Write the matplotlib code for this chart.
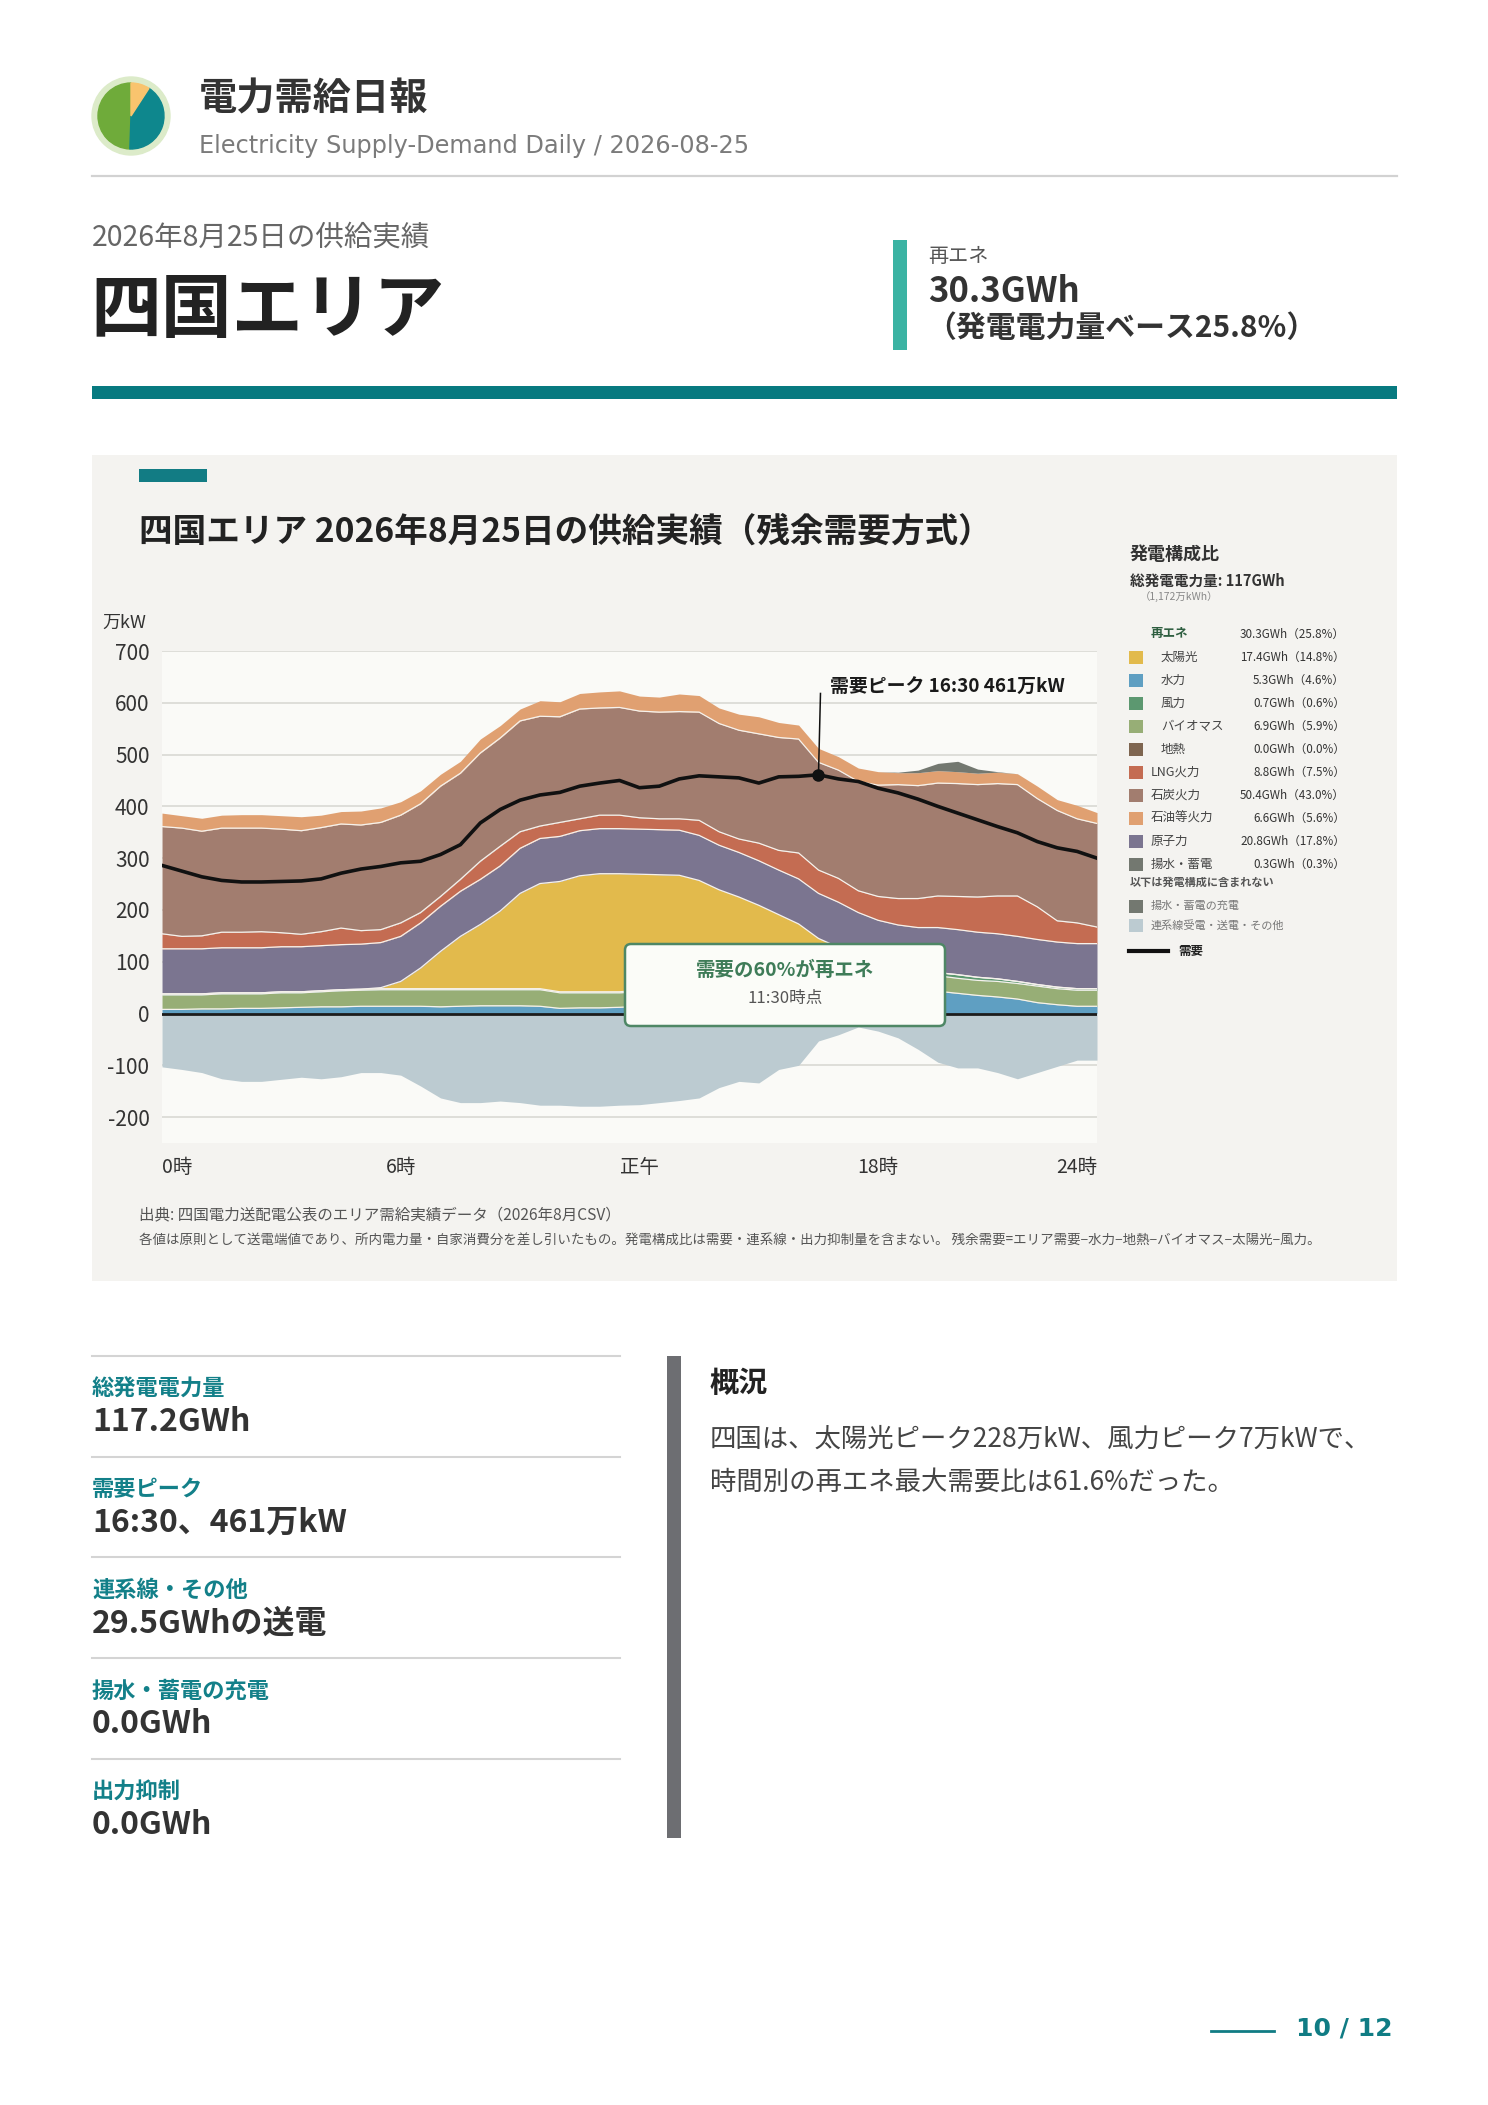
import numpy as np
import matplotlib.pyplot as plt
from matplotlib.patches import Rectangle, FancyBboxPatch, Wedge, Circle
from matplotlib.transforms import Affine2D, blended_transform_factory

plt.rcParams['font.family'] = ['Noto Sans CJK JP', 'DejaVu Sans']
plt.rcParams['axes.unicode_minus'] = False

################################################################################
# Datos (万kW, cada 30 minutos de 0:00 a 23:30)
horas = np.arange(0, 24, 0.5)

hidro = [8, 8, 9, 9, 10, 10, 11, 12, 13, 13, 14, 14, 14, 14, 13, 14, 15, 15, 15, 14, 10, 11, 11, 12,
         14, 17, 20, 24, 28, 32, 36, 40, 44, 46, 48, 48, 47, 46, 45,
         43, 39, 35, 32, 28, 21, 17, 14, 14]
biomasa = [28, 28, 27, 29, 28, 28, 29, 28, 29, 31, 31, 32,
           32, 32, 33, 32, 31, 31, 31, 32,
           30, 29, 29, 28, 28,
           28, 29, 29, 29, 29, 29, 29, 29, 29, 30, 30, 30, 30, 30,
           30, 29, 29, 30, 30, 32, 31, 31, 31]
eolica = [2] * 24 + [3, 3, 4, 4, 4, 4, 4, 4, 4, 4, 4, 4, 4, 4, 4] + [6, 7, 6, 5, 4, 3, 3, 3, 3]
geotermia = [0] * 48
solar = [0] * 11 + [2, 14, 40, 72, 101, 124, 150, 184, 203, 213, 224, 228, 228, 224, 220, 214,
                    200, 178, 160, 140, 118, 96, 66, 46, 26, 12, 4] + [0] * 10
nuclear = [87, 87, 87, 87, 87, 87, 87, 87, 87, 87, 87, 87, 87, 87, 87, 87,
           87, 87, 87, 87, 87, 87, 87, 87, 87, 87, 87, 87, 86, 86, 86, 86,
           87, 87, 87, 87, 87, 87, 87, 87, 87, 87, 87, 87, 87, 87, 87, 87]
lng = [29, 24, 25, 30, 30, 31, 27, 24, 27, 32, 26, 25, 26, 20, 19, 23,
       35, 38, 32, 24, 27, 23, 26, 26, 22, 21, 22, 29, 26, 26, 34, 38,
       50, 45, 46, 42, 46, 51, 56, 61, 64, 68, 73, 78, 63, 41, 40, 32]
carbon = [207, 209, 202, 201, 201, 200, 200, 200, 201, 201, 204, 207, 208, 210, 213, 205,
          209, 209, 214, 212, 204, 212, 207, 208, 206, 206, 207, 209, 209, 210, 211, 218,
          220, 208, 209, 211, 215, 220, 218, 218, 218, 217, 217, 215, 209, 213, 201, 200]
petroleo = [26, 24, 25, 25, 26, 26, 26, 27, 24, 24, 27, 28, 26, 25, 23, 23,
            27, 24, 23, 30, 29, 30, 31, 32, 29, 29, 34, 32, 30, 31, 33, 29,
            27, 27, 26, 26, 26, 23, 25, 24, 23, 22, 22, 21, 24, 21, 26, 21]
bombeo = [0] * 37 + [1, 5, 14, 20, 8, 1] + [0] * 5
interconexion = [-103, -108, -114, -126, -131, -131, -127, -123, -126, -122, -114, -114, -119, -140, -163, -172, -172,
                 -169, -172, -177, -177, -179, -179, -177, -176, -172, -168, -163, -143, -131, -134, -108, -100,
                 -53, -41, -26, -34, -47, -69, -94, -105, -105, -114, -126, -114, -102, -90, -90]
demanda = [286, 275, 264, 257, 254, 254, 255, 256, 260, 271, 279, 284, 291, 294, 307, 326,
           368, 394, 412, 422, 427, 439, 445, 450, 436, 439, 453, 459, 457, 455, 445, 457,
           458, 461, 453, 448, 435, 426, 414, 400, 387, 374, 361, 349, 332, 320, 313, 300]

# Colores
c_solar = '#e2ba4c'
c_hidro = '#5f9fc2'
c_eolica = '#5c9870'
c_biomasa = '#97ae76'
c_geo = '#7e6550'
c_lng = '#c46c52'
c_carbon = '#a27d6f'
c_petroleo = '#e0a071'
c_nuclear = '#7b7590'
c_bombeo = '#737870'
c_inter = '#bccbd1'

# Leyenda
leyenda_filas = [('太陽光', c_solar, '17.4GWh（14.8%）', True),
                 ('水力', c_hidro, '5.3GWh（4.6%）', True),
                 ('風力', c_eolica, '0.7GWh（0.6%）', True),
                 ('バイオマス', c_biomasa, '6.9GWh（5.9%）', True),
                 ('地熱', c_geo, '0.0GWh（0.0%）', True),
                 ('LNG火力', c_lng, '8.8GWh（7.5%）', False),
                 ('石炭火力', c_carbon, '50.4GWh（43.0%）', False),
                 ('石油等火力', c_petroleo, '6.6GWh（5.6%）', False),
                 ('原子力', c_nuclear, '20.8GWh（17.8%）', False),
                 ('揚水・蓄電', c_bombeo, '0.3GWh（0.3%）', False)]

# Resumen
resumen_titulos = ['総発電電力量', '需要ピーク', '連系線・その他', '揚水・蓄電の充電', '出力抑制']
resumen_valores = ['117.2GWh', '16:30、461万kW', '29.5GWhの送電', '0.0GWh', '0.0GWh']

################################################################################
# Lienzo en pixeles
W, H = 1488, 2105
fig = plt.figure(figsize=(W / 100, H / 100), dpi=100)
fig.patch.set_facecolor('white')
px = Affine2D().scale(1 / W, 1 / H) + fig.transFigure


def txt(x, y, s, size, color='#333333', weight='normal', ha='left', va='center', **kw):
    fig.text(x, H - y, s, transform=px, fontsize=size, color=color,
             fontweight=weight, ha=ha, va=va, **kw)


def caja(x0, y0, x1, y1, color, z=1):
    fig.add_artist(Rectangle((x0, H - y1), x1 - x0, y1 - y0, transform=px,
                             facecolor=color, edgecolor='none', zorder=z))


def linea(x0, x1, y, color, lw):
    fig.add_artist(plt.Line2D([x0, x1], [H - y, H - y], transform=px, color=color, lw=lw))


# Cabecera
fig.add_artist(Circle((131, H - 116), 39, transform=px, color='#dcebc9'))
fig.add_artist(Wedge((131, H - 116), 33, 90, 268, transform=px, color='#6fab3a'))
fig.add_artist(Wedge((131, H - 116), 33, -92, 57, transform=px, color='#0e878d'))
fig.add_artist(Wedge((131, H - 116), 33, 57, 90, transform=px, color='#f9c46e'))
txt(199, 99, '電力需給日報', 27.5, '#333333', 'bold')
txt(199, 146, 'Electricity Supply-Demand Daily / 2026-08-25', 17.3, '#7b7b7b',
    family='DejaVu Sans')
linea(92, 1397, 176, '#d2d2d2', 1.6)

txt(92, 238, '2026年8月25日の供給実績', 20.5, '#666666')
txt(90, 311, '四国エリア', 51, '#222222', 'bold')
caja(893, 240, 907, 350, '#3bb3a3')
txt(928, 256, '再エネ', 14.5, '#555555')
txt(928, 291, '30.3GWh', 25, '#333333', 'bold')
txt(926, 328, '（発電電力量ベース25.8%）', 21.5, '#333333', 'bold')
caja(92, 386, 1397, 399, '#077a80')

################################################################################
# Panel del gráfico
caja(92, 455, 1397, 1281, '#f4f3f0', z=-1)
caja(139, 469, 207, 482, '#127c84')
txt(139, 532, '四国エリア 2026年8月25日の供給実績（残余需要方式）', 24.2, '#222222', 'bold')
txt(102, 623, '万kW', 13, '#333333')

ax = fig.add_axes([162 / W, 1 - 1143 / H, 935 / W, 492 / H])
ax.set_facecolor('#fafaf7')
for s in ax.spines.values():
    s.set_visible(False)

capas = [(hidro, c_hidro), (biomasa, c_biomasa), (eolica, c_eolica), (geotermia, c_geo),
         (solar, c_solar), (nuclear, c_nuclear), (lng, c_lng), (carbon, c_carbon),
         (petroleo, c_petroleo), (bombeo, c_bombeo)]
base = np.zeros(len(horas))
for k, (vals, col) in enumerate(capas):
    tope = base + np.array(vals)
    ax.fill_between(horas, base, tope, color=col, lw=0, zorder=2)
    if k < len(capas) - 2 and max(vals) > 0:
        ax.plot(horas, tope, color='#f6f2ec', lw=0.9, zorder=2.5)
    base = tope
ax.fill_between(horas, np.array(interconexion), 0, color=c_inter, lw=0, zorder=2)

ax.axhline(0, color='#1c1c1c', lw=2, zorder=3)
ax.plot(horas, demanda, color='#111111', lw=2.6, zorder=4, solid_joinstyle='round')

ip = int(np.argmax(demanda))
hh = horas[ip]
etiqueta = f'{int(hh)}:{int(round((hh % 1) * 60)):02d}'
ax.plot([hh], [demanda[ip]], 'o', ms=8, color='#111111', zorder=5)
ax.plot([hh, hh + 0.05], [demanda[ip], 618], color='#111111', lw=1.1, zorder=5)
ax.text(16.78, 630, f'需要ピーク {etiqueta} {demanda[ip]}万kW', fontsize=13.6,
        fontweight='bold', color='#1a1a1a', va='center', ha='left', zorder=6)

ax.set_xlim(0, 23.5)
ax.set_ylim(-250, 700)
ax.set_xticks([])
ax.set_yticks(range(-200, 701, 100))
ax.tick_params(axis='y', length=0, pad=9, labelsize=15, labelcolor='#333333')
ax.yaxis.grid(True, color='#dcdcd6', lw=1.3)
ax.set_axisbelow(True)

tx = blended_transform_factory(ax.transData, ax.transAxes)
for xv, lab, al in [(0, '0時', 'left'), (6, '6時', 'center'), (12, '正午', 'center'),
                    (18, '18時', 'center'), (23.5, '24時', 'right')]:
    ax.text(xv, -0.0488, lab, transform=tx, ha=al, va='center', fontsize=14, color='#333333')

# Recuadro de renovables a las 11:30
ir = 23
renov = hidro[ir] + biomasa[ir] + eolica[ir] + geotermia[ir] + solar[ir]
fig.add_artist(FancyBboxPatch((625, H - 1026), 320, 82, boxstyle='round,pad=0,rounding_size=6',
                              transform=px, facecolor='#fbfcf8', edgecolor='#4e8765', lw=1.8, zorder=5))
txt(785, 970, f'需要の{round(renov / demanda[ir] * 100)}%が再エネ', 14, '#3e7c58', 'bold',
    ha='center', zorder=6)
txt(785, 998, '11:30時点', 12, '#555555', ha='center', zorder=6)

# Leyenda
txt(1130, 554, '発電構成比', 13, '#333333', 'bold')
txt(1130, 581, '総発電電力量: 117GWh', 10.5, '#333333', 'bold')
txt(1140, 597, '（1,172万kWh）', 7.5, '#888888')
txt(1151, 634, '再エネ', 9, '#2e5e40', 'bold')
txt(1345, 634, '30.3GWh（25.8%）', 8.4, '#333333', ha='right')
for k, (nom, col, val, sub) in enumerate(leyenda_filas):
    y = 657 + 23 * k
    caja(1129, y - 6.5, 1143, y + 6.5, col)
    txt(1161 if sub else 1151, y, nom, 9, '#444444')
    txt(1345, y, val, 8.4, '#333333', ha='right')
txt(1130, 882, '以下は発電構成に含まれない', 8, '#555555', 'bold')
caja(1129, 899.5, 1143, 912.5, c_bombeo)
txt(1151, 906, '揚水・蓄電の充電', 8, '#777777')
caja(1129, 918.5, 1143, 931.5, c_inter)
txt(1151, 925, '連系線受電・送電・その他', 8, '#777777')
linea(1129, 1168, 951, '#111111', 3)
txt(1178, 951, '需要', 9, '#222222', 'bold')

txt(139, 1215, '出典: 四国電力送配電公表のエリア需給実績データ（2026年8月CSV）', 11.2, '#555555')
txt(139, 1241, '各値は原則として送電端値であり、所内電力量・自家消費分を差し引いたもの。'
    '発電構成比は需要・連系線・出力抑制量を含まない。 残余需要=エリア需要−水力−地熱−バイオマス−太陽光−風力。',
    9.7, '#555555')

################################################################################
# Resumen inferior
for k, (tit, val) in enumerate(zip(resumen_titulos, resumen_valores)):
    y0 = 1356 + 100.7 * k
    linea(92, 620, y0, '#d4d4d4', 1.5)
    txt(92, y0 + 33, tit, 16, '#138089', 'bold')
    txt(92, y0 + 66, val, 23, '#333333', 'bold')

caja(667, 1356, 681, 1838, '#6d6e72')
txt(710, 1383, '概況', 21, '#222222', 'bold')
txt(710, 1439, '四国は、太陽光ピーク228万kW、風力ピーク7万kWで、', 19, '#444444')
txt(710, 1482, '時間別の再エネ最大需要比は61.6%だった。', 19, '#444444')

# Pie de página
linea(1211, 1274, 2031, '#107c84', 2)
txt(1393, 2029, '10 / 12', 18, '#107c84', 'bold', ha='right', family='DejaVu Sans')

fig.savefig('out.png', dpi=100)
